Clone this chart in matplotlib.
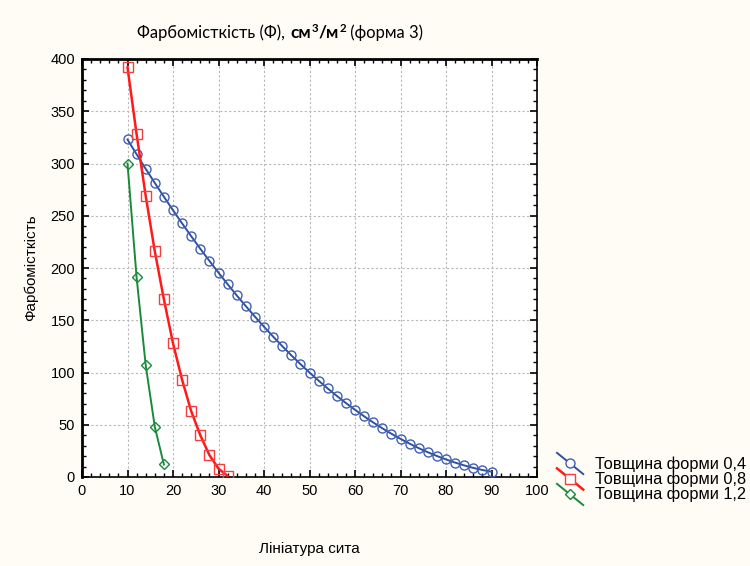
import matplotlib
matplotlib.use("Agg")
from matplotlib import pyplot as plt
from matplotlib.lines import Line2D
from matplotlib.legend_handler import HandlerLine2D
from matplotlib.ticker import MultipleLocator

# values
x_04 = [10, 12, 14, 16, 18, 20, 22, 24, 26, 28, 30, 32, 34, 36, 38, 40, 42, 44, 46, 48, 50,
        52, 54, 56, 58, 60, 62, 64, 66, 68, 70, 72, 74, 76, 78, 80, 82, 84, 86, 88, 90]
y_04 = [323.0, 308.8, 294.9, 281.4, 268.2, 255.3, 242.7, 230.4, 218.4, 206.8, 195.5,
        184.5, 173.8, 163.5, 153.5, 143.8, 134.4, 125.3, 116.5, 108.1, 100.0,
        92.2, 84.7, 77.6, 70.8, 64.3, 58.1, 52.2, 46.6, 41.4, 36.5,
        31.9, 27.6, 23.7, 20.1, 16.8, 13.8, 11.1, 8.7, 6.7, 5.0]
x_08 = [10, 12, 14, 16, 18, 20, 22, 24, 26, 28, 30, 32]
y_08 = [392, 328, 269, 216, 170, 128, 93, 63, 40, 21, 8, 1]
x_12 = [10, 12, 14, 16, 18]
y_12 = [300, 191, 107, 48, 12]
labels = ["Товщина форми 0,4", "Товщина форми 0,8", "Товщина форми 1,2"]

BG = "#fffcf5"
plt.rcParams["font.family"] = ["Liberation Sans", "DejaVu Sans"]


class DiagHandler(HandlerLine2D):
    # statistica-style legend key: a falling diagonal with the marker in the middle
    def create_artists(self, legend, orig_handle, xdescent, ydescent,
                       width, height, fontsize, trans):
        ln = Line2D([0, width], [height + 3, -4], color=orig_handle.get_color(),
                    lw=orig_handle.get_linewidth(), transform=trans)
        mk = Line2D([width / 2], [height / 2 - 0.5], marker=orig_handle.get_marker(),
                    markersize=orig_handle.get_markersize(), mfc="white",
                    mec=orig_handle.get_markeredgecolor(), mew=1,
                    linestyle="none", transform=trans)
        return [ln, mk]


fig = plt.figure(figsize=(7.5, 5.66), dpi=100, facecolor=BG)
ax = fig.add_axes([82 / 750, 1 - 477 / 566, 455 / 750, 418 / 566])
ax.set_facecolor("white")

l1, = ax.plot(x_04, y_04, color="#3050a0", lw=1.4, marker="o", ms=6.5,
              mfc="none", mec="#3f5fb0", mew=1, label=labels[0], zorder=3)
l2, = ax.plot(x_08, y_08, color="#ff1a1a", lw=1.8, marker="s", ms=7,
              mfc="none", mec="#f04040", mew=1, label=labels[1], zorder=3)
l3, = ax.plot(x_12, y_12, color="#1a8a3a", lw=1.4, marker="D", ms=5,
              mfc="none", mec="#1a8a3a", mew=1, label=labels[2], zorder=3)

ax.set_xlim(0, 100)
ax.set_ylim(0, 400)
ax.xaxis.set_major_locator(MultipleLocator(10))
ax.xaxis.set_minor_locator(MultipleLocator(2))
ax.yaxis.set_major_locator(MultipleLocator(50))
ax.yaxis.set_minor_locator(MultipleLocator(10))
ax.tick_params(which="both", direction="in", top=True, right=True,
               labelsize=10.5, color="black")
ax.tick_params(which="major", length=5, width=1.2, pad=5)
ax.tick_params(which="minor", length=3, width=1)
ax.grid(True, which="major", color="#b8b8b8", linestyle=(0, (2, 2)), lw=0.8)
for side in ["left", "top"]:
    ax.spines[side].set_linewidth(2)
for side in ["right", "bottom"]:
    ax.spines[side].set_linewidth(1.2)

ax.set_xlabel("Лініатура сита", fontsize=11, labelpad=32)
ax.set_ylabel("Фарбомісткість", fontsize=11, labelpad=9)

# title assembled from pieces: plain text, bold units with superscripts, plain text
fig.canvas.draw()
rend = fig.canvas.get_renderer()
ty = 1 - 33 / 566
pieces = [("Фарбомісткість (Ф), ", "normal", 11.9, 0),
          ("см", "bold", 12.4, 0), ("3", "bold", 8.3, 5),
          ("/м", "bold", 12.4, 0), ("2", "bold", 8.3, 5),
          (" (форма 3)", "normal", 11.9, 0)]
xpos = 137
for txt, wt, sz, rise in pieces:
    t = fig.text(xpos / 750, ty + rise / 566, txt, family="Lato", fontweight=wt,
                 fontsize=sz, va="center", ha="left")
    bb = t.get_window_extent(rend)
    xpos = bb.x1 + (1 if txt.endswith(" ") else 0.5)

leg = fig.legend(handles=[l1, l2, l3], labels=labels, loc="upper left",
                 bbox_to_anchor=(557 / 750, 1 - 456 / 566), frameon=False,
                 fontsize=11.8, handlelength=1.6, handletextpad=0.7,
                 labelspacing=0.0, borderaxespad=0, borderpad=0,
                 handler_map={Line2D: DiagHandler()})

fig.savefig("out.png", dpi=100, facecolor=BG)
